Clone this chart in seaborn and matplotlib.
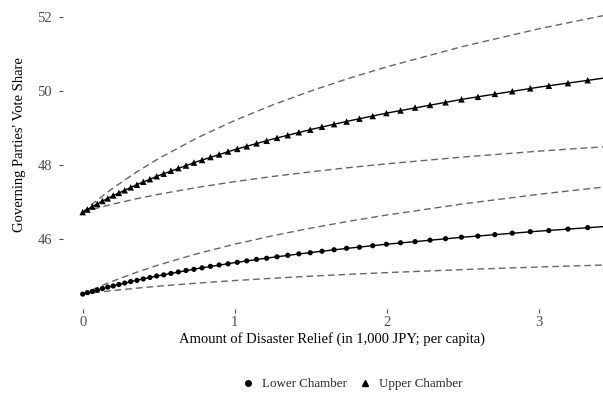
import numpy as np
import pandas as pd
import matplotlib
matplotlib.use("Agg")
import matplotlib.pyplot as plt
from matplotlib.lines import Line2D
import seaborn as sns

# relief values of the plotted points (1,000 JPY per capita)
relief_pts = [0.0, 0.0309, 0.0628, 0.0957, 0.1296, 0.1646, 0.2006, 0.2378, 0.2761, 0.3156,
              0.3563, 0.3983, 0.4415, 0.4861, 0.5321, 0.5795, 0.6284, 0.6788, 0.7307, 0.7843,
              0.8395, 0.8964, 0.9551, 1.0156, 1.0780, 1.1423, 1.2086, 1.2769, 1.3474, 1.4200,
              1.4949, 1.5721, 1.6517, 1.7338, 1.8184, 1.9056, 1.9955, 2.0882, 2.1837, 2.2822,
              2.3838, 2.4885, 2.5965, 2.7078, 2.8225, 2.9408, 3.0627, 3.1884, 3.3181]

upper_pts = [46.72, 46.79, 46.87, 46.94, 47.02, 47.09, 47.17, 47.24, 47.31, 47.39,
             47.46, 47.54, 47.61, 47.69, 47.76, 47.84, 47.91, 47.98, 48.06, 48.13,
             48.21, 48.28, 48.36, 48.43, 48.50, 48.58, 48.65, 48.73, 48.80, 48.88,
             48.95, 49.03, 49.10, 49.17, 49.25, 49.32, 49.40, 49.47, 49.55, 49.62,
             49.69, 49.77, 49.84, 49.92, 49.99, 50.07, 50.14, 50.21, 50.29]

lower_pts = [44.50, 44.54, 44.57, 44.61, 44.65, 44.69, 44.72, 44.76, 44.80, 44.84,
             44.87, 44.91, 44.95, 44.99, 45.02, 45.06, 45.10, 45.14, 45.17, 45.21,
             45.25, 45.29, 45.32, 45.36, 45.40, 45.44, 45.47, 45.51, 45.55, 45.59,
             45.62, 45.66, 45.70, 45.74, 45.77, 45.81, 45.85, 45.89, 45.92, 45.96,
             46.00, 46.04, 46.07, 46.11, 46.15, 46.19, 46.22, 46.26, 46.30]

# fitted curve and confidence bounds on a coarser grid
relief_grid = [0, 0.1, 0.2, 0.35, 0.5, 0.75, 1, 1.25, 1.5, 1.75, 2, 2.5, 3, 3.5]
upper_fit = [46.72, 46.953, 47.165, 47.452, 47.709, 48.085, 48.411, 48.699, 48.956, 49.188, 49.401, 49.777, 50.103, 50.390]
upper_hi = [46.72, 47.061, 47.373, 47.794, 48.172, 48.724, 49.201, 49.623, 50.000, 50.342, 50.653, 51.205, 51.683, 52.105]
upper_lo = [46.72, 46.833, 46.937, 47.077, 47.203, 47.386, 47.545, 47.685, 47.810, 47.924, 48.027, 48.211, 48.370, 48.510]
lower_fit = [44.50, 44.617, 44.724, 44.869, 44.999, 45.188, 45.353, 45.497, 45.627, 45.744, 45.851, 46.041, 46.205, 46.350]
lower_hi = [44.50, 44.686, 44.856, 45.085, 45.291, 45.591, 45.852, 46.081, 46.287, 46.473, 46.642, 46.943, 47.203, 47.433]
lower_lo = [44.50, 44.551, 44.597, 44.659, 44.715, 44.797, 44.867, 44.930, 44.986, 45.036, 45.082, 45.164, 45.235, 45.297]

y_ticks = [46, 48, 50, 52]
x_ticks = [0, 1, 2, 3]

sns.set_theme(style="white")
plt.rcParams["font.family"] = ["Liberation Serif", "DejaVu Serif"]

pts = pd.concat([
    pd.DataFrame({"relief": relief_pts, "share": lower_pts, "chamber": "Lower Chamber"}),
    pd.DataFrame({"relief": relief_pts, "share": upper_pts, "chamber": "Upper Chamber"}),
])

fig = plt.figure(figsize=(6.03, 3.95), dpi=100)
ax = fig.add_axes([63 / 603, 86 / 395, 540 / 603, 307 / 395])

dash = (0, (4.8, 2.9))
for ys in [upper_hi, upper_lo, lower_hi, lower_lo]:
    sns.lineplot(x=relief_grid, y=ys, ax=ax, color="#666666", linewidth=1.0, linestyle=dash)
for ys in [upper_fit, lower_fit]:
    sns.lineplot(x=relief_grid, y=ys, ax=ax, color="black", linewidth=1.0)

sns.scatterplot(data=pts[pts.chamber == "Lower Chamber"], x="relief", y="share",
                marker="o", s=14, color="black", edgecolor="none", ax=ax, legend=False, zorder=3)
sns.scatterplot(data=pts[pts.chamber == "Upper Chamber"], x="relief", y="share",
                marker="^", s=22, color="black", edgecolor="none", ax=ax, legend=False, zorder=3)

ax.set_xlim(-0.1294, 3.4185)
ax.set_ylim(44.097, 52.406)
ax.set_xticks(x_ticks)
ax.set_yticks(y_ticks)
ax.set_xticklabels([str(t) for t in x_ticks])
ax.set_yticklabels([str(t) for t in y_ticks])
for s in ax.spines.values():
    s.set_visible(False)
ax.tick_params(axis="both", which="major", direction="out", length=3, width=0.8,
               color="#4d4d4d", labelcolor="#4d4d4d", labelsize=10.5)
ax.tick_params(axis="y", left=True, pad=5)
ax.tick_params(axis="x", bottom=True, pad=2)
ax.grid(False)

ax.set_xlabel("Amount of Disaster Relief (in 1,000 JPY; per capita)", fontsize=10.5, color="black", va="center")
ax.set_ylabel("Governing Parties' Vote Share", fontsize=10.5, color="black", va="center", ha="center")
ax.xaxis.set_label_coords(0.498, -0.098)
ax.yaxis.set_label_coords(-0.080, 0.537)

handles = [Line2D([], [], marker="o", color="black", linestyle="none", markersize=4),
           Line2D([], [], marker="^", color="black", linestyle="none", markersize=4.5)]
fig.legend(handles, ["Lower Chamber", "Upper Chamber"], loc="center",
           bbox_to_anchor=(352 / 603, 11 / 395), ncol=2, frameon=False, fontsize=9.4,
           handletextpad=0.56, columnspacing=0.87, handlelength=1.0)

fig.savefig("out.png", dpi=100)
